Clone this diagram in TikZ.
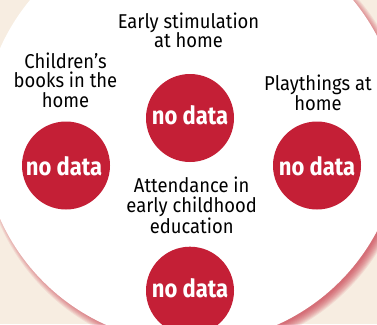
\documentclass[tikz,border=0pt]{standalone}
\usepackage{fontspec}
\setmainfont{Fira Sans}
\newfontfamily\labelfont[FakeStretch=0.92]{Fira Sans}
\newfontfamily\dotfont[FakeStretch=0.88]{Fira Sans}
\definecolor{bgbeige}{HTML}{F7EDE1}
\definecolor{dotred}{RGB}{196,31,54}
\definecolor{glowred}{RGB}{200,50,70}
\tikzset{
  dot/.style={circle, fill=dotred, minimum size=88pt, inner sep=0pt},
  dottext/.style={anchor=base, text=white, font=\dotfont\fontsize{25}{25}\selectfont\bfseries, inner sep=0pt},
  label/.style={align=center, font=\labelfont\fontsize{20}{19.5}\selectfont, text=black, inner sep=0pt, anchor=base}
}
\begin{document}
\begin{tikzpicture}[x=1pt,y=-1pt]
\useasboundingbox (0,0) rectangle (377,324);
\begin{scope}
\clip (0,0) rectangle (377,324);
\fill[bgbeige] (0,0) rectangle (377,324);
\foreach \d in {1,...,10}{
  \fill[glowred, opacity=0.1] (196,138.5) circle ({204+\d});
}
\fill[white] (191.5,133.5) circle (209.5);
\node[dot] (top) at (190,118) {};
\node[dot] (left) at (66,165.5) {};
\node[dot] (right) at (317,165.5) {};
\node[dot] (bottom) at (190,290.7) {};
\node[dottext] (ttop) at (190,124) {no data};
\node[dottext] (tleft) at (64,175) {no data};
\node[dottext] (tright) at (317,175) {no data};
\node[dottext] (tbottom) at (190,297.7) {no data};
\node[label] (ltop) at (188.5,47.7) {Early stimulation\\at home};
\node[label] (lleft) at (65.5,107.3) {Children’s\\books in the\\home};
\node[label] (lright) at (318,110) {Playthings at\\home};
\node[label] (lbottom) at (191.7,233.3) {Attendance in\\early childhood\\education};
\end{scope}
\end{tikzpicture}
\end{document}
